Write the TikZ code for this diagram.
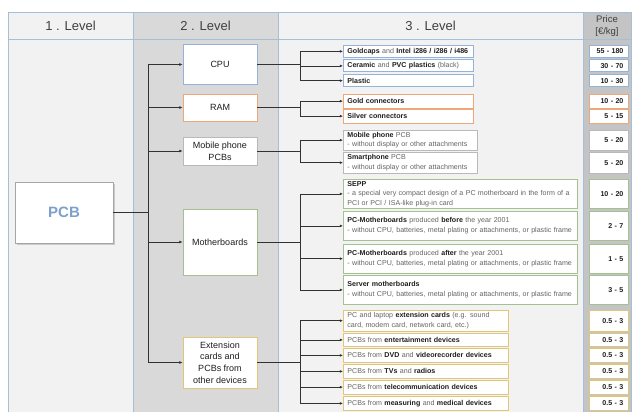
\documentclass[tikz,border=0pt]{standalone}
\usepackage{fontspec}
\setmainfont{Liberation Sans}
\usetikzlibrary{arrows.meta,shadows}

\definecolor{colline}{RGB}{166,191,217}
\definecolor{bglight}{RGB}{242,242,242}
\definecolor{bgmid}{RGB}{217,217,217}
\definecolor{bgprice}{RGB}{196,196,196}
\definecolor{cpucol}{RGB}{149,179,215}
\definecolor{ramcol}{RGB}{236,168,122}
\definecolor{mobcol}{RGB}{185,185,185}
\definecolor{mbcol}{RGB}{165,192,145}
\definecolor{extcol}{RGB}{225,198,120}
\definecolor{txtgray}{RGB}{100,100,100}
\definecolor{txtdark}{RGB}{30,30,30}
\definecolor{pcbblue}{RGB}{125,160,205}
\definecolor{conncol}{RGB}{50,50,50}

\newcommand{\kw}[1]{\textbf{\textcolor{txtdark}{#1}}}

\begin{document}
\begin{tikzpicture}
[x=1pt, y=-1pt, line width=0.6pt,
head/.style={font=\fontsize{13}{15}\selectfont, text=txtdark!85},
pricehead/.style={font=\fontsize{9.5}{12}\selectfont, text=txtdark!85, align=center},
pcbbox/.style={rectangle, draw=gray!70, fill=white, line width=0.8pt, minimum width=98pt, minimum height=61pt, font=\fontsize{15}{17}\selectfont\bfseries, text=pcbblue, drop shadow={shadow xshift=1.5pt, shadow yshift=-1.5pt, opacity=0.35}},
l2box/.style={rectangle, draw, fill=white, line width=0.8pt, minimum width=74pt, align=center, inner sep=1pt, font=\fontsize{9}{11.6}\selectfont, text=txtdark},
l3box/.style={rectangle, draw, fill=white, line width=0.8pt, anchor=north west, inner xsep=4pt, inner ysep=0pt, align=left, font=\fontsize{7.1}{9.5}\selectfont, text=txtgray},
l3cpu/.style={l3box, draw=cpucol, minimum width=130pt, text width=122pt},
l3ram/.style={l3box, draw=ramcol, minimum width=130pt, text width=122pt},
l3mob/.style={l3box, draw=mobcol, minimum width=134pt, text width=126pt},
l3mb/.style={l3box, draw=mbcol, minimum width=234pt, text width=226pt},
l3ext/.style={l3box, draw=extcol, minimum width=165pt, text width=157pt},
price/.style={rectangle, draw, fill=white, line width=0.8pt, anchor=north west, minimum width=39pt, inner xsep=5pt, inner ysep=0pt, text width=29pt, align=right, font=\fontsize{7.1}{9}\selectfont\bfseries, text=txtdark},
wire/.style={draw=conncol},
conn/.style={draw=conncol, -{Latex[length=3.2pt,width=2.8pt]}}
]
\useasboundingbox (0,0) rectangle (632,412);

\filldraw[fill=bglight, draw=colline] (8,12) rectangle (133,412);
\filldraw[fill=bgmid, draw=colline] (133,12) rectangle (278,412);
\filldraw[fill=bglight, draw=colline] (278,12) rectangle (583,412);
\filldraw[fill=bgprice, draw=colline] (583,12) rectangle (631,412);
\draw[colline] (8,39.5) -- (631,39.5);

\node[head] (h1) at (70.5,26) {1 . Level};
\node[head] (h2) at (205.5,26) {2 . Level};
\node[head] (h3) at (430.5,26) {3 . Level};
\node[pricehead] (h4) at (607,26) {Price\\{}[€/kg]};

\node[pcbbox] (pcb) at (64,212.5) {PCB};

\node[l2box, draw=cpucol, minimum height=40pt] (cpu) at (220,64.5) {CPU};
\node[l2box, draw=ramcol, minimum height=27pt] (ram) at (220,107.5) {RAM};
\node[l2box, draw=mobcol, minimum height=28pt] (mob) at (220,151) {Mobile phone\\PCBs};
\node[l2box, draw=mbcol, minimum height=66pt] (mb) at (220,242) {Motherboards};
\node[l2box, draw=extcol, minimum height=51pt] (ext) at (220,362.5) {Extension\\cards and\\PCBs from\\other devices};

\node[l3cpu, minimum height=12pt] (goldcaps) at (343,45) {\kw{Goldcaps} and \kw{Intel i286 / i286 / i486}};
\node[l3cpu, minimum height=12pt] (ceramic) at (343,59.5) {\kw{Ceramic} and \kw{PVC plastics} (black)};
\node[l3cpu, minimum height=12.5pt] (plastic) at (343,74) {\kw{Plastic}};
\node[l3ram, minimum height=13.5pt] (goldcon) at (343,94) {\kw{Gold connectors}};
\node[l3ram, minimum height=13.5pt] (silvercon) at (343,109) {\kw{Silver connectors}};
\node[l3mob, minimum height=20.5pt] (mobpcb) at (343,129.5) {\kw{Mobile phone} PCB\\- without display or other attachments};
\node[l3mob, minimum height=21.5pt] (smartpcb) at (343,151.5) {\kw{Smartphone} PCB\\- without display or other attachments};
\node[l3mb, minimum height=29pt] (sepp) at (343,179) {\kw{SEPP}\\- a special very compact design of a PC motherboard in the form of a\\PCI or PCI / ISA-like plug-in card};
\node[l3mb, minimum height=29pt] (mbbefore) at (343,211) {\kw{PC-Motherboards} produced \kw{before} the year 2001\\- without CPU, batteries, metal plating or attachments, or plastic frame};
\node[l3mb, minimum height=29.5pt] (mbafter) at (343,243.5) {\kw{PC-Motherboards} produced \kw{after} the year 2001\\- without CPU, batteries, metal plating or attachments, or plastic frame};
\node[l3mb, minimum height=29pt] (server) at (343,275) {\kw{Server motherboards}\\- without CPU, batteries, metal plating or attachments, or plastic frame};
\node[l3ext, minimum height=20.5pt] (extcards) at (343,310) {PC and laptop \kw{extension cards} (e.g. sound\\card, modem card, network card, etc.)};
\node[l3ext, minimum height=13pt] (entert) at (343,333) {PCBs from \kw{entertainment devices}};
\node[l3ext, minimum height=14pt] (dvd) at (343,348) {PCBs from \kw{DVD} and \kw{videorecorder devices}};
\node[l3ext, minimum height=14pt] (tvs) at (343,364) {PCBs from \kw{TVs} and \kw{radios}};
\node[l3ext, minimum height=13.5pt] (telecom) at (343,380) {PCBs from \kw{telecommunication devices}};
\node[l3ext, minimum height=14pt] (medical) at (343,396) {PCBs from \kw{measuring} and \kw{medical devices}};

\node[price, draw=cpucol, minimum height=12pt] (p1) at (589,45) {55 - 180};
\node[price, draw=cpucol, minimum height=12pt] (p2) at (589,59.5) {30 - 70};
\node[price, draw=cpucol, minimum height=12.5pt] (p3) at (589,74) {10 - 30};
\node[price, draw=ramcol, minimum height=13.5pt] (p4) at (589,94) {10 - 20};
\node[price, draw=ramcol, minimum height=13.5pt] (p5) at (589,109) {5 - 15};
\node[price, draw=mobcol, minimum height=20.5pt] (p6) at (589,129.5) {5 - 20};
\node[price, draw=mobcol, minimum height=21.5pt] (p7) at (589,151.5) {5 - 20};
\node[price, draw=mbcol, minimum height=29pt] (p8) at (589,179) {10 - 20};
\node[price, draw=mbcol, minimum height=29pt] (p9) at (589,211) {2 - 7};
\node[price, draw=mbcol, minimum height=29.5pt] (p10) at (589,243.5) {1 - 5};
\node[price, draw=mbcol, minimum height=29pt] (p11) at (589,275) {3 - 5};
\node[price, draw=extcol, minimum height=20.5pt] (p12) at (589,310) {0.5 - 3};
\node[price, draw=extcol, minimum height=13pt] (p13) at (589,333) {0.5 - 3};
\node[price, draw=extcol, minimum height=14pt] (p14) at (589,348) {0.5 - 3};
\node[price, draw=extcol, minimum height=14pt] (p15) at (589,364) {0.5 - 3};
\node[price, draw=extcol, minimum height=13.5pt] (p16) at (589,380) {0.5 - 3};
\node[price, draw=extcol, minimum height=14pt] (p17) at (589,396) {0.5 - 3};

\coordinate (trunk) at (148,0);
\coordinate (fork) at (300,0);

\draw[wire] (pcb.east) -- (pcb.east -| trunk);
\draw[wire] (cpu.west -| trunk) -- (ext.west -| trunk);
\draw[conn] (cpu.west -| trunk) -- (cpu.west);
\draw[conn] (ram.west -| trunk) -- (ram.west);
\draw[conn] (mob.west -| trunk) -- (mob.west);
\draw[conn] (mb.west -| trunk) -- (mb.west);
\draw[conn] (ext.west -| trunk) -- (ext.west);

\draw[wire] (cpu.east) -- (cpu.east -| fork);
\draw[wire] (goldcaps.west -| fork) -- (plastic.west -| fork);
\draw[conn] (goldcaps.west -| fork) -- (goldcaps.west);
\draw[conn] (ceramic.west -| fork) -- (ceramic.west);
\draw[conn] (plastic.west -| fork) -- (plastic.west);

\draw[wire] (ram.east) -- (ram.east -| fork);
\draw[wire] (goldcon.west -| fork) -- (silvercon.west -| fork);
\draw[conn] (goldcon.west -| fork) -- (goldcon.west);
\draw[conn] (silvercon.west -| fork) -- (silvercon.west);

\draw[wire] (mob.east) -- (mob.east -| fork);
\draw[wire] (mobpcb.west -| fork) -- (smartpcb.west -| fork);
\draw[conn] (mobpcb.west -| fork) -- (mobpcb.west);
\draw[conn] (smartpcb.west -| fork) -- (smartpcb.west);

\draw[wire] (mb.east) -- (mb.east -| fork);
\draw[wire] (sepp.west -| fork) -- (server.west -| fork);
\draw[conn] (sepp.west -| fork) -- (sepp.west);
\draw[conn] (mbbefore.west -| fork) -- (mbbefore.west);
\draw[conn] (mbafter.west -| fork) -- (mbafter.west);
\draw[conn] (server.west -| fork) -- (server.west);

\draw[wire] (ext.east) -- (ext.east -| fork);
\draw[wire] (extcards.west -| fork) -- (medical.west -| fork);
\draw[conn] (extcards.west -| fork) -- (extcards.west);
\draw[conn] (entert.west -| fork) -- (entert.west);
\draw[conn] (dvd.west -| fork) -- (dvd.west);
\draw[conn] (tvs.west -| fork) -- (tvs.west);
\draw[conn] (telecom.west -| fork) -- (telecom.west);
\draw[conn] (medical.west -| fork) -- (medical.west);
\end{tikzpicture}
\end{document}
